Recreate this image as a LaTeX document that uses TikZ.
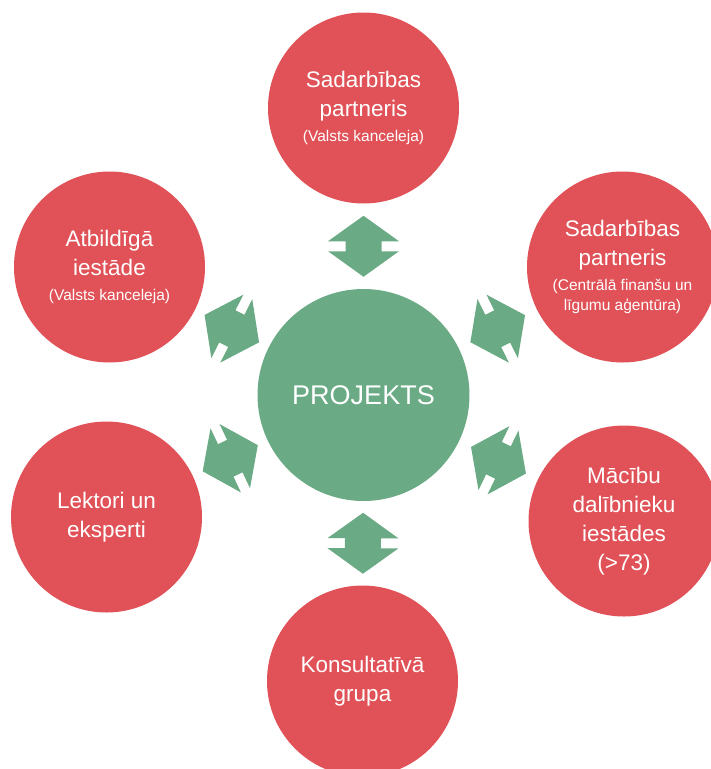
\documentclass[tikz,border=0pt]{standalone}
\usepackage{fontspec}
\setmainfont{Liberation Sans}
\usetikzlibrary{calc}
\definecolor{cred}{HTML}{E05257}
\definecolor{cgreen}{HTML}{6AAA85}
\newcommand{\mainf}{\fontsize{22.5}{29}\selectfont}
\newcommand{\subf}{\fontsize{15.5}{20}\selectfont}
\begin{document}
\begin{tikzpicture}[x=1pt,y=-1pt,
  outer/.style={circle,fill=cred,draw=none,minimum size=191pt,inner sep=0pt,
    text=white,align=center,font=\mainf},
  inner/.style={circle,fill=cgreen,draw=none,minimum size=212pt,inner sep=0pt,
    text=white,font=\fontsize{27}{32}\selectfont},
  dblarrow/.pic={\fill[cgreen] (-30.5,0) -- (-5,35.5) -- (-5,18) -- (5,18) -- (5,35.5)
     -- (30.5,0) -- (5,-35.5) -- (5,-18) -- (-5,-18) -- (-5,-35.5) -- cycle;}]
\useasboundingbox (0,0) rectangle (711,769);
\node[inner] (c) at (363.5,395) {PROJEKTS};
\node[outer] (top) at (363.5,108) {Sadarbības\\partneris\\[-4pt]{\subf (Valsts kanceleja)}};
\node[outer] (ur) at (622.5,267) {Sadarbības\\partneris\\[-4pt]{\subf (Centrālā finanšu un}\\[-9pt]{\subf līgumu aģentūra)}};
\node[outer] (lr) at (624,521) {Mācību\\dalībnieku\\iestādes\\(>73)};
\node[outer] (bot) at (362.5,681) {Konsultatīvā\\grupa};
\node[outer] (ll) at (106.5,517) {Lektori un\\eksperti};
\node[outer] (ul) at (109.5,267) {Atbildīgā\\iestāde\\[-4pt]{\subf (Valsts kanceleja)}};
\foreach \o in {top,ur,lr,bot,ll,ul}{
  \coordinate (m-\o) at ($(\o)!0.5!(c)$);
  \path let \p1=($(c)-(\o)$), \n1={atan2(\y1,\x1)} in
    ($(m-\o)!5.25pt!(\o)$) pic[rotate=\n1]{dblarrow};
}
\end{tikzpicture}
\end{document}
